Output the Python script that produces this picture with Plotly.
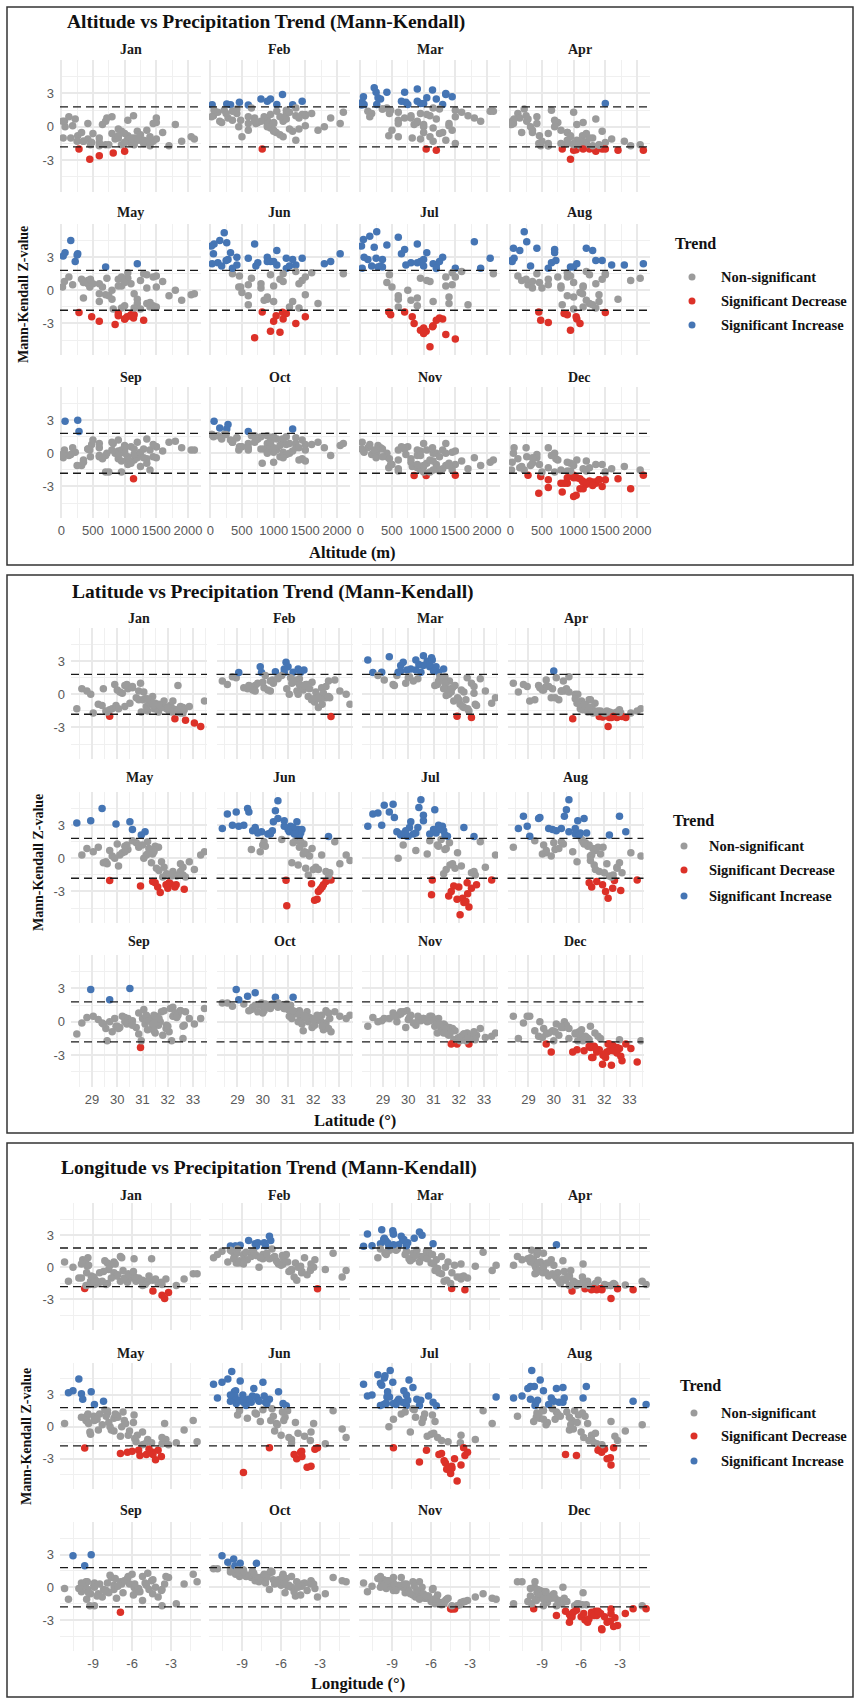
import plotly.graph_objects as go

FIG_W, FIG_H = 859, 1698

MONTHS = ["Jan", "Feb", "Mar", "Apr", "May", "Jun",
          "Jul", "Aug", "Sep", "Oct", "Nov", "Dec"]

# Station coordinates (one entry per rain gauge)
STATION_LAT = [30.42, 30.38, 30.50, 30.20, 29.70, 29.95, 30.60, 30.85, 30.30, 30.05, 29.40, 28.95,
               29.25, 29.55, 29.80, 28.60, 28.40, 29.05, 29.60, 30.00, 29.90, 30.30, 29.45, 28.80,
               31.63, 31.40, 31.20, 31.05, 31.10, 30.92, 31.30, 31.50, 31.75, 31.00, 30.95, 31.45,
               31.15, 31.35, 30.75, 31.55,
               32.33, 32.10, 31.95, 32.50, 31.93, 31.60, 31.80, 32.20, 32.05, 31.70, 32.40, 32.60,
               31.50, 32.15,
               32.50, 32.65, 32.70, 33.05, 32.28, 33.30, 32.60, 33.45, 32.85, 32.20,
               31.25, 31.45, 31.85, 32.00, 31.65, 31.20, 30.60, 29.70, 30.10, 32.35, 31.40, 30.85]
STATION_LON = [-9.60, -9.40, -9.15, -9.45, -9.65, -9.90, -9.80, -9.50, -8.90, -9.20, -10.10, -10.55,
               -8.95, -8.60, -8.30, -11.20, -10.90, -9.55, -9.25, -7.90, -6.80, -5.85, -7.40, -9.90,
               -8.00, -7.80, -7.90, -7.70, -8.20, -6.90, -7.40, -7.20, -7.60, -8.50, -8.90, -8.70,
               -6.50, -6.20, -6.70, -6.90,
               -6.36, -6.00, -5.70, -5.20, -4.42, -4.90, -5.20, -4.80, -4.00, -4.20, -4.50, -5.60,
               -5.50, -3.70,
               -3.40, -3.75, -3.20, -3.70, -4.40, -3.50, -2.60, -1.30, -2.00, -1.00,
               -7.10, -6.60, -6.30, -5.40, -5.80, -5.90, -8.10, -8.90, -9.35, -5.00, -4.70, -7.30]
STATION_ALT = [50, 120, 260, 180, 280, 30, 220, 320, 420, 350, 150, 60,
               900, 1150, 1350, 20, 250, 600, 750, 1500, 800, 720, 700, 420,
               460, 900, 1300, 1800, 1200, 1140, 1600, 1050, 600, 950, 700, 350,
               1500, 2050, 1350, 1900,
               480, 900, 1450, 1700, 1040, 1000, 1250, 1350, 1100, 850, 1500, 1200,
               1150, 950,
               1200, 600, 820, 600, 1000, 450, 1400, 500, 2100, 1000,
               1250, 1100, 800, 1300, 1400, 950, 1050, 1000, 650, 1150, 900, 1450]

# Mann-Kendall Z statistic of monthly precipitation, same station order
Z_JAN = [0.5, 0.9, -0.8, 0.1, -1.98, -1.0, 0.7, -0.5, -1.1, -1.3, -1.0, 0.0,
         -0.9, -1.5, -1.3, 0.5, -1.3, -1.7, -1.6, 0.4, 0.9, 0.8, 0.5, 0.3,
         -1.6, -0.2, -1.5, 0.2, -0.4, 1.0, -0.5, -0.8, -1.0, -0.5, -1.6, -1.3, -1.1, -0.9, -0.3, -1.3,
         -1.4, -1.0, -1.3, -1.7, -1.2, -1.4, -1.2, -1.3, -1.5, -1.1, 0.8, -1.2, -1.0, -1.6,
         -1.1, -1.4, -2.35, -2.6, -2.2, -2.9, -1.7, -0.6, -1.1, -0.6,
         -0.7, -1.0, -0.6, -1.2, -0.9, -0.4, 0.6, -1.4, 0.2, -1.6, -0.8, 0.3]
Z_FEB = [1.0, 1.3, 2.05, 0.4, 0.8, 1.98, 1.5, 1.98, 1.2, 0.6, 0.5, 1.5,
         0.6, 0.7, 1.0, 0.9, 1.2, 1.97, 0.4, 1.1, 2.5, 0.3, 0.8, 1.6,
         2.2, 2.3, 1.99, 0.0, 1.5, 2.9, 1.2, 2.0, 0.9, 2.5, 0.5, 1.4, 1.0, 0.3, 1.7, 0.8,
         0.6, 0.2, 1.1, -0.3, -0.5, 0.4, -0.2, -1.2, -0.7, 0.9, 0.1, 1.2, 0.5, -0.1,
         0.7, -0.3, -2.0, 0.3, -0.4, 0.0, -0.2, -0.9, 1.3, -0.3,
         1.3, 0.9, 0.5, -0.4, 0.8, 1.1, 1.4, 0.3, 1.7, -0.9, 0.0, 2.3]
Z_MAR = [2.7, 1.4, 2.0, 1.2, 2.6, 2.2, 3.5, 2.5, 3.1, 1.6, 0.9, 2.0,
         3.4, 1.7, 2.9, 1.97, 3.1, 1.3, 2.0, 1.5, 1.0, 2.2, 0.8, 1.7,
         1.2, 2.3, 2.0, 0.8, 2.5, 3.3, 1.3, 1.1, 0.6, 2.1, 3.1, 1.6, 0.9, 1.4, 3.0, 0.5,
         1.5, 0.4, -0.3, 1.0, -1.98, 0.0, -0.6, -1.2, -0.9, 0.2, -1.5, 0.7, -0.1, -1.1,
         -2.1, -0.9, -1.0, 0.3, -0.5, -0.8, 0.1, -0.3, 1.4, 0.2,
         1.6, 1.0, 0.8, -0.5, 0.3, 1.2, 2.6, 2.1, 2.3, -1.3, 0.5, 2.7]
Z_APR = [0.3, 1.2, 0.5, -0.5, 0.7, 0.5, 1.6, 0.0, 0.3, -0.3, 0.8, 0.7,
         -0.5, 0.4, 0.7, 0.2, 1.0, -0.6, 0.4, 2.1, -0.3, 0.3, 0.6, 0.9,
         -0.8, -0.5, -1.0, -1.3, -0.6, -0.8, -1.1, -1.2, -1.5, -0.8, 0.0, -0.5, -1.4, -1.6, -2.2, -1.7,
         -1.7, -1.5, -2.0, -2.1, -2.05, -1.5, -2.0, -2.1, -1.7, -1.6, -1.98, -1.4, -1.3, -2.9,
         -1.6, -1.7, -2.0, -1.7, -2.1, -1.5, -1.65, -1.3, -2.1, -1.6,
         -1.0, -1.3, -1.5, -1.7, -1.6, -0.9, 0.2, 1.3, 1.5, -2.0, -1.2, -0.4]
Z_MAY = [0.8, 1.2, 3.3, 0.5, -2.0, 3.1, 2.6, 1.0, 0.6, -0.7, 4.5, 3.4,
         1.0, -0.3, 0.2, 0.3, 3.2, 0.6, -0.5, 1.3, 0.0, 1.1, -0.4, 0.9,
         1.0, 0.4, 1.5, 0.0, 2.4, -2.5, 0.8, 1.1, -0.3, 1.2, 2.1, 0.7, 0.3, -0.4, 1.4, -0.9,
         -2.4, -2.3, -1.4, -0.5, -2.4, -2.6, -1.7, -1.2, -2.2, -3.1, -1.5, -0.8, -2.2, -1.6,
         -1.2, -2.8, -1.7, -1.0, -2.6, 0.3, -1.5, 0.6, -0.3, -1.4,
         0.9, 0.6, -0.8, -2.7, -1.1, 0.4, 1.6, 0.7, 0.3, -1.6, -2.1, 1.2]
Z_JUN = [3.3, 2.5, 4.3, 2.2, 2.8, 2.4, 5.2, 3.4, 2.3, 1.5, 4.5, 4.2,
         3.0, 0.8, 2.3, 4.0, 2.7, 2.9, 2.5, 1.2, 0.6, 2.2, 4.2, 3.0,
         1.3, 2.6, 2.8, 2.4, 2.9, -1.98, 1.6, 2.3, 0.5, 2.6, -4.3, 2.0, -0.4, 3.3, 1.7, 2.6,
         0.3, -0.8, 0.9, -1.2, -2.3, 0.4, -1.5, -3.0, -3.8, -0.9, -2.4, 1.97, 1.5, -3.7,
         -2.1, -1.3, -1.97, -0.5, -2.8, 0.3, -1.6, -0.2, 1.5, -1.0,
         2.2, 1.0, 0.2, -1.0, 0.6, 1.4, 3.6, 2.6, 1.1, -2.6, -0.6, 2.9]
Z_JUL = [4.6, 2.8, 5.3, 2.2, 2.1, 2.0, 3.9, 2.2, 0.7, 2.8, 4.9, 3.0,
         4.2, 2.4, 1.2, 4.0, 2.9, 4.8, 0.0, 2.0, 2.5, 2.3, 3.7, 4.1,
         1.4, 2.5, 3.0, 4.4, 2.3, -3.3, 1.7, 0.9, -0.5, 2.6, -1.97, 2.1, 1.2, 2.9, 0.4, 2.0,
         -2.2, -0.7, 0.5, -1.3, -3.7, -3.4, -2.5, -4.0, -5.1, -3.0, -4.4, 1.98, -1.0, -3.6,
         -2.7, -1.5, -2.4, -0.8, -3.9, -1.97, -1.2, 0.3, 1.5, 2.8,
         2.6, 0.8, -0.9, -2.6, -0.6, 1.1, 3.4, 2.2, 3.3, -3.2, -1.4, 1.6]
Z_AUG = [3.8, 1.3, 4.4, 0.9, 0.5, 2.6, 5.3, 2.2, 1.5, 0.8, 3.6, 2.9,
         1.6, 0.4, 2.7, 2.7, 1.0, 2.0, 1.2, 1.4, 0.2, 2.7, 3.7, 3.8,
         0.7, 1.2, 3.6, 2.3, 1.7, -0.3, 2.3, -2.6, 1.0, 2.1, 3.4, 0.2, 1.5, 1.1, 0.6, 0.9,
         -2.7, -0.5, 1.0, -0.8, -2.4, -0.6, -1.2, -1.6, -3.0, -2.1, -2.0, 3.8, 0.3, -3.6,
         -0.9, -2.9, -1.3, 0.5, -1.7, -1.97, -0.4, 0.2, 2.4, 2.1,
         1.4, -0.2, 0.4, -1.3, -1.0, 1.3, 2.4, 0.7, 2.5, -1.5, -2.2, 2.7]
Z_SEP = [0.3, -0.2, 3.0, 0.5, 1.98, -0.4, 0.1, -1.1, 0.4, -0.6, -0.1, 2.9,
         0.2, -0.6, -0.9, -0.1, -1.1, 0.5, -1.7, -0.4, 0.3, 0.0, -0.2, 0.4,
         -0.3, -0.5, 0.4, 1.1, -0.2, -2.3, 0.2, -1.0, 0.9, 0.3, -1.7, -0.8, 0.6, 0.3, -0.5, 0.5,
         0.8, 1.2, -0.3, 1.0, -0.6, 0.2, -1.2, 1.3, -0.9, 0.0, 0.6, -0.4, -0.1, -1.7,
         1.0, -0.3, 0.9, -0.2, 0.7, 0.3, -1.5, 1.2, 0.3, 0.5,
         0.1, 0.6, 1.0, -0.4, 0.3, -0.7, -0.3, 0.0, -0.5, 0.4, -0.2, 0.8]
Z_OCT = [1.5, 1.6, 2.2, 1.3, 2.6, 1.7, 1.7, 1.2, 1.4, 1.0, 2.3, 2.9,
         1.6, 1.1, 0.9, 1.7, 1.7, 1.98, 1.3, 0.8, 1.5, 1.2, 1.0, 1.4,
         0.6, 0.9, 2.2, 0.5, 1.5, 1.3, 0.8, 0.4, 0.9, 1.1, 1.6, 1.0, 0.3, 0.7, 1.4, -0.2,
         0.6, 0.2, -0.5, 1.0, 0.3, -0.8, 0.0, 0.5, -0.3, 0.4, -0.7, 0.8, 0.1, 0.6,
         -0.1, 0.3, -0.9, 0.5, 0.1, 0.3, -0.6, 0.6, 0.9, 0.5,
         0.9, 0.7, 0.4, 0.2, 0.5, 1.0, 1.3, 1.5, 1.6, -0.4, 0.0, 1.2]
Z_NOV = [0.2, 0.5, 0.1, -0.1, 0.7, 1.0, 0.3, 0.5, -0.3, 0.4, 0.8, 0.1,
         0.3, 0.0, 0.9, 0.4, -0.4, 0.3, 0.6, 0.2, -0.5, -0.1, 0.5, 0.0,
         -0.5, -0.2, 0.3, -0.4, 0.0, 0.5, -0.7, -0.9, -0.6, 0.2, 0.4, -0.3, -1.0, -0.8, 0.0, -1.1,
         -1.0, -1.3, -1.5, -1.4, -2.0, -1.2, -1.6, -1.1, -1.7, -2.0, -1.98, -1.0, -0.7, -1.5,
         -1.3, -1.6, -1.2, -1.4, -1.7, -1.3, -0.9, -1.0, -0.6, -1.1,
         -0.3, -0.6, -0.8, -1.4, -1.1, -0.2, 0.3, 0.9, 0.6, -1.5, -1.0, 0.1]
Z_DEC = [0.0, -0.5, -0.3, -1.2, -1.98, -0.8, -1.5, -1.1, -0.4, -0.9, -1.3, 0.5,
         -0.8, -1.4, -1.0, -1.5, 0.5, 0.5, -0.6, -1.7, -2.7, -0.5, 0.0, -0.1,
         -1.0, -1.6, -2.6, -1.2, -0.7, -2.5, -1.4, -2.2, -1.3, -0.9, -1.7, -0.4, -1.7, -1.5, -2.7, -3.2,
         -2.1, -2.7, -3.0, -2.3, -3.8, -2.2, -2.5, -2.6, -3.2, -2.7, -2.4, -1.6, -3.2, -2.0,
         -2.8, -3.1, -3.5, -2.4, -3.9, -3.6, -2.4, -1.7, -1.98, -1.98,
         -1.3, -2.3, -1.5, -2.9, -2.4, -1.6, -0.6, -1.1, -0.2, -2.6, -2.2, -1.0]

Z_BY_MONTH = [Z_JAN, Z_FEB, Z_MAR, Z_APR, Z_MAY, Z_JUN,
              Z_JUL, Z_AUG, Z_SEP, Z_OCT, Z_NOV, Z_DEC]

# |Z| threshold used both for the dashed guides and for colouring points
Z_CRIT = 1.8
TREND_LABELS = ["Non-significant", "Significant Decrease", "Significant Increase"]
TREND_COLORS = {"Non-significant": "#9b9b9b",
                "Significant Decrease": "#dc3128",
                "Significant Increase": "#4575b4"}

Y_RANGE = [-5.85, 6.0]
Y_TICKS = [-3, 0, 3]
Y_TICKTEXT = ["-3", "0", "3"]
Y_MINOR = [-4.5, -1.5, 1.5, 4.5]

SERIF = "Liberation Serif"
SANS = "Liberation Sans"
GRID_MAJOR = "#e9e9e9"
GRID_MINOR = "#f0f0f0"
TICK_COLOR = "#595959"


def trend_class(z):
    if z > Z_CRIT:
        return "Significant Increase"
    if z < -Z_CRIT:
        return "Significant Decrease"
    return "Non-significant"


def fx(px):
    return px / FIG_W


def fy(py):
    return 1 - py / FIG_H


PANELS = [
    dict(title="Altitude vs Precipitation Trend (Mann-Kendall)", title_pos=(65, 22),
         x_values=STATION_ALT, x_title="Altitude (m)", x_title_pos=(352, 552),
         col_left=[60, 209, 359, 509], col_width=141,
         rows=[(60, 192), (224, 355), (387, 518)], strip_y=[50, 212, 377],
         x_range=[-20, 2205], x_ticks=[0, 500, 1000, 1500, 2000],
         x_ticktext=["0", "500", "1000", "1500", "2000"],
         x_minor=[250, 750, 1250, 1750],
         y_title_pos=(23, 295),
         legend=dict(title_pos=(673, 243), marker_x=692, text_x=719, item_y=[277, 301, 325]),
         box=(7, 7, 853, 565)),
    dict(title="Latitude vs Precipitation Trend (Mann-Kendall)", title_pos=(70, 592),
         x_values=STATION_LAT, x_title="Latitude (°)", x_title_pos=(355, 1120),
         col_left=[71, 216.5, 362, 507.5], col_width=136,
         rows=[(628, 759), (792, 923), (955, 1087)], strip_y=[619, 778, 942],
         x_range=[28.17, 33.55], x_ticks=[29, 30, 31, 32, 33],
         x_ticktext=["29", "30", "31", "32", "33"],
         x_minor=[28.5, 29.5, 30.5, 31.5, 32.5, 33.5],
         y_title_pos=(39, 863),
         legend=dict(title_pos=(671, 820), marker_x=684, text_x=707, item_y=[846, 870, 896]),
         box=(7, 575, 853, 1133)),
    dict(title="Longitude vs Precipitation Trend (Mann-Kendall)", title_pos=(59, 1168),
         x_values=STATION_LON, x_title="Longitude (°)", x_title_pos=(358, 1683),
         col_left=[60, 209, 359, 509], col_width=141,
         rows=[(1203, 1330), (1363, 1489), (1522, 1651)], strip_y=[1195, 1353, 1510],
         x_range=[-11.55, -0.7], x_ticks=[-9, -6, -3],
         x_ticktext=["-9", "-6", "-3"],
         x_minor=[-10.5, -7.5, -4.5, -1.5],
         y_title_pos=(26, 1437),
         legend=dict(title_pos=(678, 1385), marker_x=694, text_x=719, item_y=[1413, 1436, 1461]),
         box=(7, 1143, 853, 1697)),
]


def axis_ref(letter, idx):
    return letter if idx == 1 else f"{letter}{idx}"


fig = go.Figure()
layout = {}
shapes = []
annotations = []

ax = 0
for panel in PANELS:
    for m, month in enumerate(MONTHS):
        ax += 1
        r, c = divmod(m, 4)
        left = panel["col_left"][c]
        right = left + panel["col_width"]
        top, bottom = panel["rows"][r]
        xref = axis_ref("x", ax)
        yref = axis_ref("y", ax)
        xname = "xaxis" if ax == 1 else f"xaxis{ax}"
        yname = "yaxis" if ax == 1 else f"yaxis{ax}"

        layout[xname] = dict(
            domain=[fx(left), fx(right)], anchor=yref, range=panel["x_range"],
            tickmode="array", tickvals=panel["x_ticks"], ticktext=panel["x_ticktext"],
            showticklabels=(r == 2), ticks="", ticklabelstandoff=3,
            tickfont=dict(family=SANS, size=13, color=TICK_COLOR),
            showgrid=True, gridcolor=GRID_MAJOR, gridwidth=1.6,
            minor=dict(tickmode="array", tickvals=panel["x_minor"], showgrid=True,
                       gridcolor=GRID_MINOR, gridwidth=1.0),
            zeroline=False, showline=False, automargin=False, fixedrange=True)
        layout[yname] = dict(
            domain=[fy(bottom), fy(top)], anchor=xref, range=Y_RANGE,
            tickmode="array", tickvals=Y_TICKS, ticktext=Y_TICKTEXT,
            showticklabels=(c == 0), ticks="", ticklabelstandoff=5,
            tickfont=dict(family=SANS, size=13, color=TICK_COLOR),
            showgrid=True, gridcolor=GRID_MAJOR, gridwidth=1.6,
            minor=dict(tickmode="array", tickvals=Y_MINOR, showgrid=True,
                       gridcolor=GRID_MINOR, gridwidth=1.0),
            zeroline=False, showline=False, automargin=False, fixedrange=True)

        # significance thresholds
        for level in (Z_CRIT, -Z_CRIT):
            shapes.append(dict(type="line", xref=f"{xref} domain", yref=yref,
                               x0=0, x1=1, y0=level, y1=level, layer="above",
                               line=dict(color="#1a1a1a", width=1.3, dash="8px,5px")))

        zvals = Z_BY_MONTH[m]
        fig.add_trace(go.Scatter(
            x=panel["x_values"], y=zvals, mode="markers",
            marker=dict(size=7.5, color=[TREND_COLORS[trend_class(z)] for z in zvals],
                        line=dict(width=0)),
            xaxis=xref, yaxis=yref, showlegend=False, hoverinfo="skip"))

        annotations.append(dict(
            x=fx((left + right) / 2), y=fy(panel["strip_y"][r]), xref="paper", yref="paper",
            text=f"<b>{month}</b>", showarrow=False, xanchor="center", yanchor="middle",
            font=dict(family=SERIF, size=14, color="#1a1a1a")))

    # panel frame
    bx0, by0, bx1, by1 = panel["box"]
    shapes.append(dict(type="rect", xref="paper", yref="paper",
                       x0=fx(bx0), x1=fx(bx1), y0=fy(by1), y1=fy(by0),
                       line=dict(color="#333333", width=1.5), fillcolor="rgba(0,0,0,0)"))

    # panel title
    tx, ty = panel["title_pos"]
    annotations.append(dict(x=fx(tx), y=fy(ty), xref="paper", yref="paper",
                            text=f"<b>{panel['title']}</b>", showarrow=False,
                            xanchor="left", yanchor="middle",
                            font=dict(family=SERIF, size=19.5, color="#111111")))

    # axis titles
    ax_x, ax_y = panel["x_title_pos"]
    annotations.append(dict(x=fx(ax_x), y=fy(ax_y), xref="paper", yref="paper",
                            text=f"<b>{panel['x_title']}</b>", showarrow=False,
                            xanchor="center", yanchor="middle",
                            font=dict(family=SERIF, size=16.5, color="#111111")))
    yx, yy = panel["y_title_pos"]
    annotations.append(dict(x=fx(yx), y=fy(yy), xref="paper", yref="paper",
                            text="<b>Mann-Kendall Z-value</b>", showarrow=False,
                            textangle=-90, xanchor="center", yanchor="middle",
                            font=dict(family=SERIF, size=14, color="#111111")))

    # legend
    leg = panel["legend"]
    lx, ly = leg["title_pos"]
    annotations.append(dict(x=fx(lx), y=fy(ly), xref="paper", yref="paper",
                            text="<b>Trend</b>", showarrow=False,
                            xanchor="left", yanchor="middle",
                            font=dict(family=SERIF, size=16, color="#111111")))
    for label, iy in zip(TREND_LABELS, leg["item_y"]):
        mx = leg["marker_x"]
        shapes.append(dict(type="circle", xref="paper", yref="paper",
                           x0=fx(mx - 3.5), x1=fx(mx + 3.5), y0=fy(iy + 3.5), y1=fy(iy - 3.5),
                           fillcolor=TREND_COLORS[label], line=dict(width=0)))
        annotations.append(dict(x=fx(leg["text_x"]), y=fy(iy), xref="paper", yref="paper",
                                text=f"<b>{label}</b>", showarrow=False,
                                xanchor="left", yanchor="middle",
                                font=dict(family=SERIF, size=14.5, color="#111111")))

fig.update_layout(
    width=FIG_W, height=FIG_H,
    margin=dict(l=0, r=0, t=0, b=0),
    paper_bgcolor="white", plot_bgcolor="white",
    showlegend=False,
    shapes=shapes, annotations=annotations,
    **layout)

fig.write_html("out.html")
